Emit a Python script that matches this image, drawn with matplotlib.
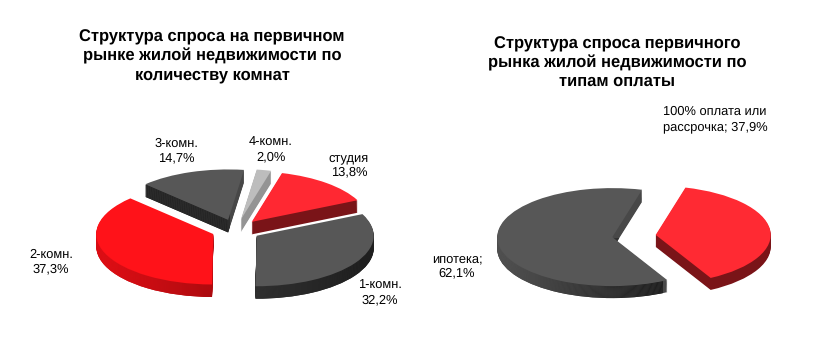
import numpy as np
import matplotlib
matplotlib.use("Agg")
import matplotlib.pyplot as plt
from matplotlib.colors import LinearSegmentedColormap

plt.rcParams['font.family'] = ['Liberation Sans', 'DejaVu Sans']
plt.rcParams['text.hinting'] = 'no_hinting'

W, H = 827, 360

# данные
rooms = ['студия', '1-комн.', '2-комн.', '3-комн.', '4-комн.']
rooms_share = [13.8, 32.2, 37.3, 14.7, 2.0]
payment = ['100% оплата или\nрассрочка', 'ипотека']
payment_share = [37.9, 62.1]

title_left = 'Структура спроса на первичном\nрынке жилой недвижимости по\nколичеству комнат'
title_right = 'Структура спроса первичного\nрынка жилой недвижимости по\nтипам оплаты'

# цвета верхней грани и боковой стенки
rooms_top = ['#ff2832', '#575757', '#ff1219', '#575757', '#bdbdbd']
rooms_side = ['#7a1418', '#2a2a2a', '#c00c12', '#474747', '#949494']
payment_top = ['#ff2a33', '#575757']
payment_side = ['#7a1418', '#484848']


def fmt(v):
    return ('%.1f%%' % v).replace('.', ',')


def draw_pie(cx, cy, rx, ry, depth_px, values, tops, sides, explode, grads):
    # оси подогнаны так, что единица данных = rx пикселей по x и ry по y
    xr, yr = 1.5, 1.6
    ax = plt.gcf().add_axes([(cx - xr * rx) / W, (H - cy - yr * ry) / H,
                             2 * xr * rx / W, 2 * yr * ry / H])
    z = 1
    n_layers = int(depth_px) + 2
    for d in np.linspace(depth_px / ry, 0, n_layers):
        is_top = d == 0
        wedges, _ = ax.pie(values, explode=[explode] * len(values), startangle=75,
                           counterclock=False, center=(0, -d),
                           colors=tops if is_top else sides,
                           wedgeprops={'linewidth': 0})
        for i, w in enumerate(wedges):
            w.set_zorder(z)
            if not is_top and i in grads:
                x0, x1, y0, y1, c0, c1 = grads[i]
                cmap = LinearSegmentedColormap.from_list('g', [c0, c1])
                im = ax.imshow(np.linspace(0, 1, 128).reshape(1, -1), cmap=cmap,
                               extent=(x0, x1, y0, y1), aspect='auto', zorder=z + 0.5)
                im.set_clip_path(w)
        z += 1
    ax.set_aspect('auto')
    ax.set_xlim(-xr, xr)
    ax.set_ylim(-yr, yr)
    ax.axis('off')


def label(x, y, s, size=9.3, spacing=1.22, **kw):
    plt.gcf().text(x / W, 1 - y / H, s, ha='center', va='center', fontsize=size,
                   linespacing=spacing, color='black', **kw)


fig = plt.figure(figsize=(W / 100, H / 100), dpi=100, facecolor='white')

# левая диаграмма
draw_pie(236, 230, 117, 50.5, 12.5, rooms_share, rooms_top, rooms_side, 0.21,
         {1: (0.1, 1.2, -1.7, 1.0, '#323232', '#1c1c1c'),
          2: (-1.2, -0.1, -1.7, 1.0, '#ea1017', '#a40a0e'),
          3: (-1.2, -0.06, -1.7, 1.0, '#222222', '#222222')})

# правая диаграмма
draw_pie(634, 236, 115, 49, 12, payment_share, payment_top, payment_side, 0.19,
         {1: (-1.2, 0.25, -1.7, -0.05, '#555555', '#1c1c1c')})

label(212, 56, title_left, size=11.9, spacing=1.22, fontweight='bold')
label(617, 63, title_right, size=11.9, spacing=1.22, fontweight='bold')

label_pos = [(349, 165), (380, 293), (51, 262), (176, 151), (271, 150)]
for name, v, (x, y) in zip(rooms, rooms_share, label_pos):
    label(x, y, name + '\n' + fmt(v))

label(715, 119, payment[0] + '; ' + fmt(payment_share[0]), spacing=1.3)
label(457, 266, payment[1] + ';\n' + fmt(payment_share[1]))

fig.savefig('out.png', dpi=100, facecolor='white')
